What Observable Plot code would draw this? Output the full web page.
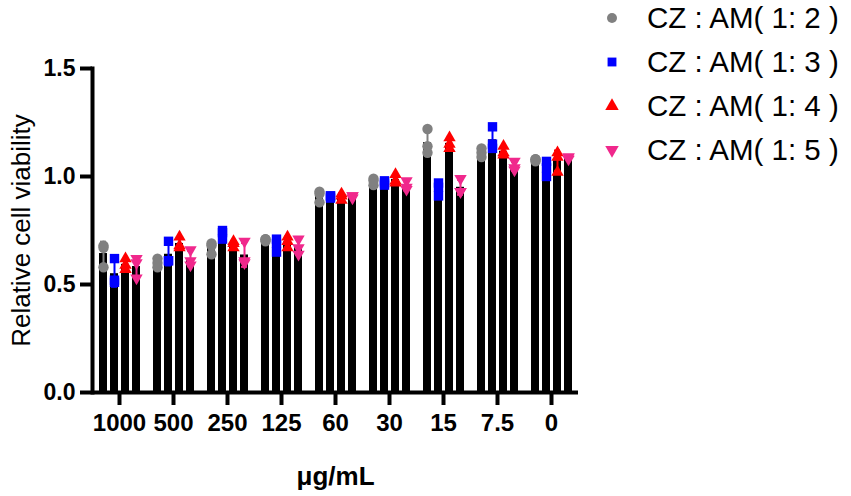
<!DOCTYPE html>
<html><head><meta charset="utf-8">
<script src="https://cdn.jsdelivr.net/npm/d3@7"></script>
<script src="https://cdn.jsdelivr.net/npm/@observablehq/plot@0.6"></script>
<style>
body{margin:0;background:#fff;}
#wrap{position:relative;width:851px;height:496px;overflow:hidden;background:#fff;}
#chart{position:absolute;left:0;top:0;}
#legend{position:absolute;left:600px;top:-4px;}
.row{display:flex;align-items:center;height:44px;}
.row svg{flex:none;}
.row span{margin-left:23px;font-size:29.5px;font-family:"Liberation Sans",Arial,sans-serif;color:#000;white-space:pre;}
</style></head><body>
<div id="wrap"><div id="chart"></div><div id="legend"></div></div>
<script>
// ---- data ----
const concentrations = ["1000","500","250","125","60","30","15","7.5","0"];
const seriesNames = ["CZ : AM( 1: 2 )","CZ : AM( 1: 3 )","CZ : AM( 1: 4 )","CZ : AM( 1: 5 )"];
const ratio12 = [[0.68,0.67,0.58],[0.62,0.60,0.58],[0.69,0.68,0.64],[0.71,0.71,0.70],[0.93,0.92,0.88],[0.99,0.98,0.96],[1.22,1.14,1.11],[1.13,1.11,1.09],[1.08,1.08,1.07]];
const ratio13 = [[0.62,0.52,0.51],[0.70,0.61,0.61],[0.75,0.74,0.71],[0.71,0.69,0.65],[0.91,0.91,0.90],[0.98,0.97,0.96],[0.97,0.95,0.91],[1.23,1.15,1.13],[1.07,1.04,1.00]];
const ratio14 = [[0.62,0.59,0.57],[0.72,0.68,0.67],[0.70,0.69,0.67],[0.72,0.70,0.67],[0.92,0.91,0.89],[1.01,0.98,0.97],[1.18,1.15,1.13],[1.14,1.11,1.10],[1.11,1.09,1.02]];
const ratio15 = [[0.62,0.60,0.53],[0.66,0.61,0.59],[0.70,0.61,0.60],[0.71,0.67,0.64],[0.91,0.91,0.90],[0.98,0.95,0.94],[0.99,0.93,0.93],[1.07,1.04,1.03],[1.09,1.09,1.08]];
const yTicks = [0, 0.5, 1.0, 1.5];
const seriesValues = [ratio12, ratio13, ratio14, ratio15];

// ---- styles ----
const seriesColors = ["#808080","#0000ff","#ff0000","#f0288c"];
const seriesSymbols = ["circle","square","triangle","triangle"];
const seriesRotate = [0,0,0,180];
const seriesR = [5.2, 5.3, 4.6, 4.6];

// ---- tables ----
const points = [];
const summary = [];
seriesValues.forEach((vals, si) => vals.forEach((reps, gi) => {
  reps.forEach(v => points.push({series: seriesNames[si], group: concentrations[gi], value: v}));
  const m = d3.mean(reps), sd = d3.deviation(reps);
  summary.push({series: seriesNames[si], group: concentrations[gi], mean: m, lo: m - sd, hi: m + sd});
}));

const font = "Liberation Sans, Arial, sans-serif";
const plot = Plot.plot({
  width: 600, height: 496,
  marginLeft: 90, marginRight: 20, marginTop: 68, marginBottom: 104,
  style: {fontFamily: font, color: "#000", background: "#fff", overflow: "visible"},
  fx: {domain: concentrations, paddingInner: 0, paddingOuter: 0, axis: null},
  x: {domain: seriesNames, paddingInner: 0.3, paddingOuter: 0.5, axis: null},
  y: {domain: [0, 1.5], axis: null},
  color: {domain: seriesNames, range: seriesColors},
  marks: [
    Plot.barY(summary, {fx: "group", x: "series", y: "mean", fill: "black"}),
    Plot.ruleX(summary, {fx: "group", x: "series", y1: "lo", y2: "hi", stroke: "series", strokeWidth: 2}),
    Plot.tickY(summary, {fx: "group", x: "series", y: "lo", stroke: "series", strokeWidth: 2, insetLeft: 1, insetRight: 1}),
    Plot.tickY(summary, {fx: "group", x: "series", y: "hi", stroke: "series", strokeWidth: 2, insetLeft: 1, insetRight: 1}),
    ...seriesNames.map((s, i) => Plot.dot(points.filter(d => d.series === s), {
      fx: "group", x: "series", y: "value", fill: seriesColors[i], stroke: "none",
      symbol: seriesSymbols[i], r: seriesR[i], rotate: seriesRotate[i]
    })),
    Plot.ruleY([0], {stroke: "black", strokeWidth: 4}),
    Plot.frame({anchor: "left", facetAnchor: "left", stroke: "black", strokeWidth: 4}),
    Plot.axisY({ticks: yTicks, tickFormat: d3.format(".1f"), tickSize: 12, tickPadding: 5, strokeWidth: 4,
      fontSize: 23, fontWeight: "bold", label: null}),
    Plot.axisY({ticks: [], tickSize: 0, label: "Relative cell viability", labelAnchor: "center", labelArrow: "none",
      labelOffset: 81, fontSize: 26}),
    Plot.axisFx({anchor: "bottom", tickSize: 13, tickPadding: 8, strokeWidth: 4, fontSize: 24, fontWeight: "bold", label: null}),
    Plot.axisFx({anchor: "bottom", ticks: [], tickSize: 0, label: "μg/mL", labelAnchor: "center", labelArrow: "none",
      labelOffset: 92, fontSize: 26, fontWeight: "bold"})
  ]
});
document.getElementById("chart").appendChild(plot);

// ---- legend ----
const legend = document.getElementById("legend");
const symbolTypes = {circle: d3.symbolCircle, square: d3.symbolSquare, triangle: d3.symbolTriangle};
seriesNames.forEach((s, i) => {
  const row = document.createElement("div");
  row.className = "row";
  const sym = d3.symbol(symbolTypes[seriesSymbols[i]], Math.PI * 5 * 5)();
  row.innerHTML = `<svg width="24" height="24" viewBox="-12 -12 24 24"><path d="${sym}" fill="${seriesColors[i]}" transform="rotate(${seriesRotate[i]})"/></svg><span>${s}</span>`;
  legend.appendChild(row);
});
</script>
</body></html>
